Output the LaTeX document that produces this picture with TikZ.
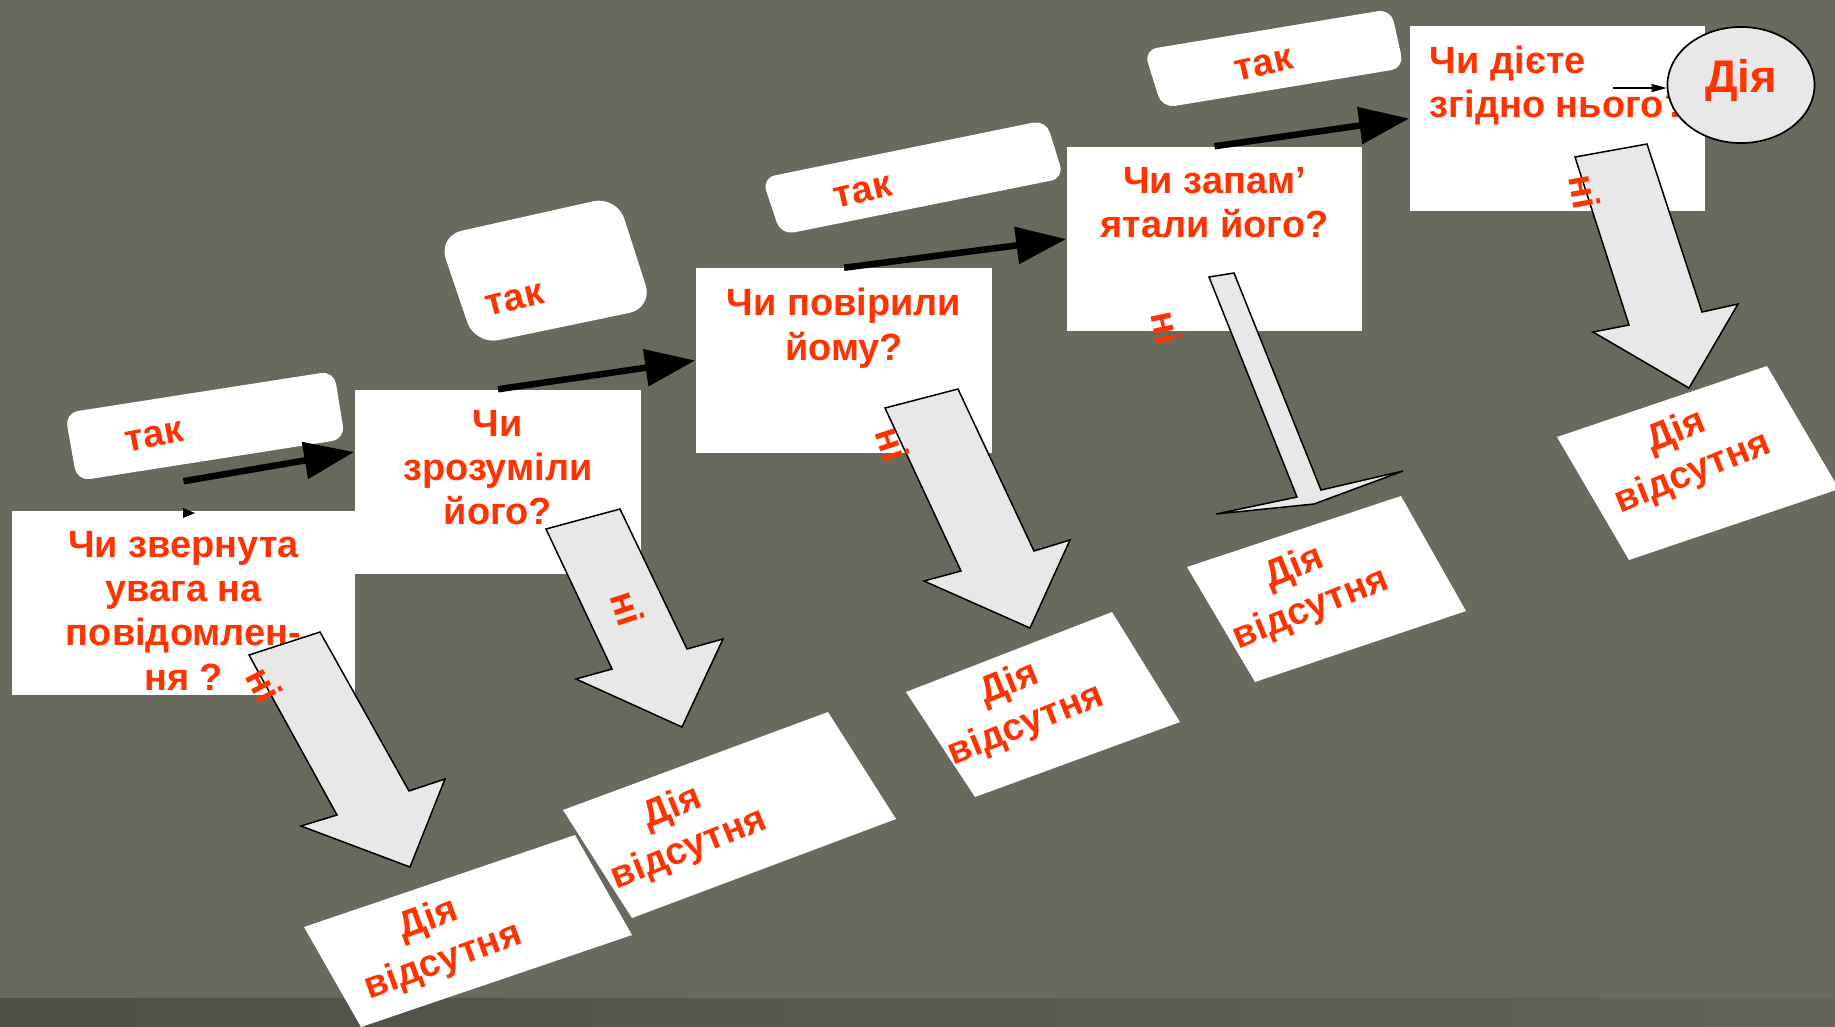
\documentclass[tikz,border=0pt]{standalone}
\usepackage{fontspec}
\setmainfont{Liberation Sans}
\usetikzlibrary{shapes.geometric,arrows.meta}

\definecolor{slidebg}{RGB}{103,106,93}
\definecolor{bandleft}{RGB}{78,80,70}
\definecolor{bandright}{RGB}{98,100,88}
\definecolor{redtext}{RGB}{255,51,0}
\definecolor{arrowgray}{RGB}{232,232,232}

\newcommand{\qfont}{\fontsize{10.8}{12.6}\selectfont\bfseries}
\newcommand{\qtext}[2]{\parbox[c][1.84cm][t]{#1}{\centering\vspace*{0.2cm}#2}}

\tikzset{
  qbox/.style={fill=white, inner sep=0pt, font=\qfont, text=redtext},
  takbox/.style={fill=white, rounded corners=0.13cm},
  redlabel/.style={font=\qfont, text=redtext, inner sep=0pt},
  noarrow/.style={fill=arrowgray, draw=black, line width=0.015cm, line join=miter},
  yesarrow/.style={line width=0.065cm, -{Triangle[length=0.5cm, width=0.36cm]}},
  absentbox/.style={fill=white},
}

\begin{document}
\begin{tikzpicture}[x=0.01cm, y=-0.01cm]
	\useasboundingbox (0,0) rectangle (1835,1026);
	\clip (0,0) rectangle (1835,1026);
	\fill[slidebg] (0,0) rectangle (1835,1026);
	\shade[left color=bandleft, right color=bandright] (0,998) rectangle (1835,1026);

	% yes boxes
	\fill[takbox] (65,413) -- (334,371) -- (345,439) -- (77,481) -- cycle;
	\fill[takbox, rounded corners=0.24cm] (438,236) -- (617,196) -- (653,308) -- (475,345) -- cycle;
	\fill[takbox] (762,178) -- (1046,120) -- (1064,178) -- (781,235) -- cycle;
	\fill[takbox] (1144,50) -- (1391,9) -- (1404,68) -- (1162,108) -- cycle;
	\node[redlabel, rotate=11] (yes1) at (154,437) {так};
	\node[redlabel, rotate=14] (yes2) at (515,300) {так};
	\node[redlabel, rotate=13] (yes3) at (863,192) {так};
	\node[redlabel, rotate=13] (yes4) at (1264,65) {так};

	% questions
	\node[qbox] (attn) at (183.5,603) {\qtext{3.43cm}{Чи звернута\\увага на\\повідомлен-\\ня ?}};
	\node[qbox] (understood) at (498,482) {\qtext{2.86cm}{Чи\\зрозуміли\\його?}};
	\node[qbox] (believed) at (844,360.5) {\qtext{2.96cm}{Чи повірили\\йому?}};
	\node[qbox] (remembered) at (1214.5,239) {\qtext{2.95cm}{Чи запам’\\ятали його?}};
	\node[qbox] (acting) at (1557.5,118.5) {\parbox[c][1.85cm][t]{2.95cm}{\raggedright\leftskip=0.2cm\vspace*{0.2cm}Чи дієте\\згідно нього?}};

	% yes arrows
	\draw[yesarrow] ([yshift=0.29cm]attn.north) -- ([yshift=0.3cm]understood.west);
	\draw[yesarrow] (understood.north) -- (believed.west);
	\draw[yesarrow] (believed.north) -- (remembered.west);
	\draw[yesarrow] (remembered.north) -- (acting.west);
	\fill (183,508) -- (195,513) -- (183,518) -- cycle;

	% no arrows
	\draw[noarrow] (249,655) -- (320,632) -- (409,791) -- (445,779) -- (410,867) -- (301,826) -- (337,815) -- cycle;
	\draw[noarrow] (546,529) -- (620,509) -- (687,649) -- (723,639) -- (682,727) -- (576,679) -- (612,669) -- cycle;
	\draw[noarrow] (885,408) -- (958,389) -- (1034,551) -- (1070,540) -- (1030,628) -- (924,581) -- (961,571) -- cycle;
	\draw[noarrow] (1209,277) -- (1234,273) -- (1321,490) -- (1403,471) -- (1314,504) -- (1216,514) -- (1297,497) -- cycle;
	\draw[noarrow] (1575,157) -- (1647,144) -- (1702,312) -- (1738,304) -- (1689,388) -- (1593,332) -- (1629,325) -- cycle;
	\node[redlabel, rotate=-62] (no1) at (265,685) {ні};
	\node[redlabel, rotate=-72] (no2) at (628,608) {ні};
	\node[redlabel, rotate=-72] (no3) at (893,444) {ні};
	\node[redlabel, rotate=-78] (no4) at (1167,328) {ні};
	\node[redlabel, rotate=-80] (no5) at (1585,192) {ні};

	% no action
	\fill[absentbox] (304,927) -- (575,835) -- (632,935) -- (361,1027) -- cycle;
	\fill[absentbox] (563,810) -- (828,712) -- (896,819) -- (632,918) -- cycle;
	\fill[absentbox] (906,692) -- (1112,612) -- (1180,722) -- (975,797) -- cycle;
	\fill[absentbox] (1187,567) -- (1401,496) -- (1466,611) -- (1255,682) -- cycle;
	\fill[absentbox] (1557,437) -- (1767,366) -- (1839,489) -- (1629,560) -- cycle;
	\node[redlabel, align=center, rotate=20] (absent1) at (436,941) {Дія\\відсутня};
	\node[redlabel, align=center, rotate=22] (absent2) at (681,829) {Дія\\відсутня};
	\node[redlabel, align=center, rotate=22] (absent3) at (1018,705) {Дія\\відсутня};
	\node[redlabel, align=center, rotate=22] (absent4) at (1303,589) {Дія\\відсутня};
	\node[redlabel, align=center, rotate=22] (absent5) at (1685,453) {Дія\\відсутня};

	% action
	\node[ellipse, fill=arrowgray, draw=black, line width=0.017cm, minimum width=1.47cm, minimum height=1.16cm, inner sep=0pt] (act) at (1741,85) {};
	\node[font=\fontsize{13}{15}\selectfont\bfseries, text=redtext, inner sep=0pt] (acttext) at (1741,80) {Дія};
	\coordinate (actstart) at (1613,88);
	\draw[line width=0.012cm, -{Triangle[length=0.15cm, width=0.08cm]}] (actstart) -- (actstart -| act.west);
\end{tikzpicture}
\end{document}
